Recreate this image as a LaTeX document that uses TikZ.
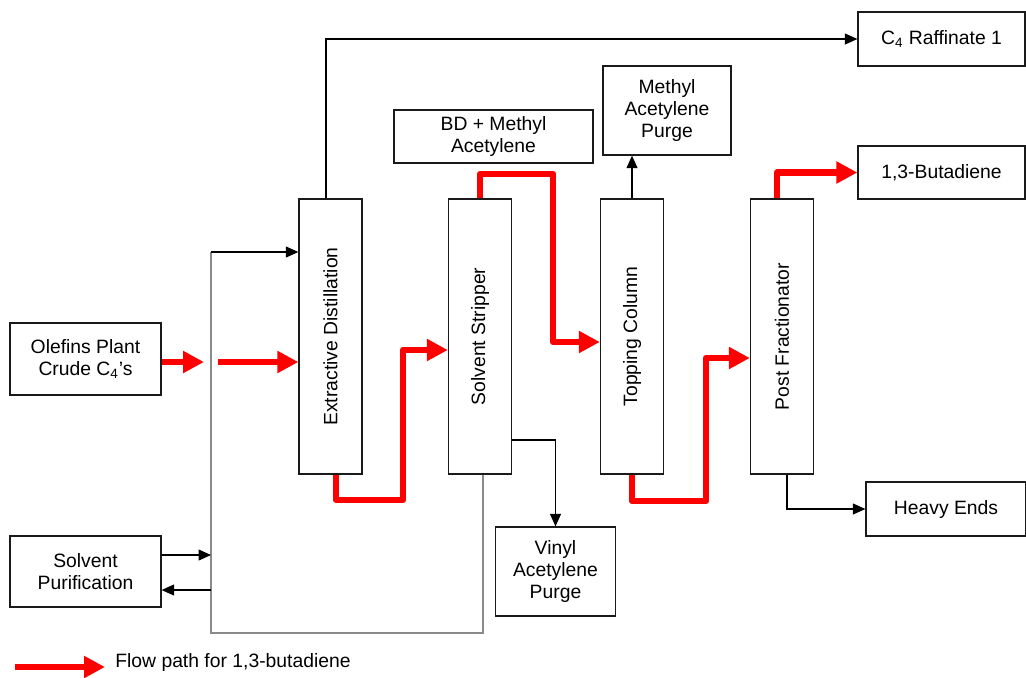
\documentclass[tikz,border=0pt]{standalone}
\usepackage{fontspec}
\setmainfont{Liberation Sans}
\usepackage{tikz}
\usetikzlibrary{positioning,arrows.meta}
\definecolor{flowred}{HTML}{FF0000}
\definecolor{loopgray}{HTML}{8A8A8A}
\definecolor{ink}{HTML}{1A1A1A}

\begin{document}
\begin{tikzpicture}[
  x=0.02cm, y=-0.02cm,
  font=\fontsize{11}{12.5}\selectfont,
  box/.style={draw=ink, line width=0.75pt, fill=white, align=center, inner sep=2pt},
  column/.style={box, minimum width=1.26cm, minimum height=5.5cm},
  arr/.style={-{Triangle[length=2.5mm, width=2.2mm]}, black, line width=0.6pt},
  flow/.style={-{Triangle[length=4.2mm, width=4.2mm]}, flowred, line width=3.6pt, line join=round},
  solv/.style={loopgray, line width=0.8pt},
]
\useasboundingbox (0,0) rectangle (1026,677);

% feed and solvent side
\node[box, minimum width=3.02cm, minimum height=1.44cm] (olefins) at (85.5,359) {Olefins Plant\\Crude C\textsubscript{4}’s};
\node[box, minimum width=3.02cm, minimum height=1.42cm] (solvpur) at (85.5,571.5) {Solvent\\Purification};

% columns
\node[column, label={[rotate=90]center:Extractive Distillation}] (extdist) at (330.5,336.5) {};
\node[column, label={[rotate=90]center:Solvent Stripper}] (sstrip) at (480,336.5) {};
\node[column, label={[rotate=90]center:Topping Column}] (topcol) at (632,336.5) {};
\node[column, label={[rotate=90]center:Post Fractionator}] (postfrac) at (782,336.5) {};

% products and purges
\node[box, minimum width=3.98cm, minimum height=1.06cm] (bdma) at (493.5,136.5) {BD + Methyl\\Acetylene};
\node[box, minimum width=2.56cm, minimum height=1.78cm] (mapurge) at (667,110.5) {Methyl\\Acetylene\\Purge};
\node[box, minimum width=3.34cm, minimum height=1.08cm] (raff) at (941.5,39) {C\textsubscript{4} Raffinate 1};
\node[box, minimum width=3.34cm, minimum height=1.06cm] (butad) at (941.5,172.5) {1,3-Butadiene};
\node[box, minimum width=3.2cm, minimum height=1.08cm] (heavy) at (946,509) {Heavy Ends};
\node[box, minimum width=2.4cm, minimum height=1.78cm] (vapurge) at (555.5,571.5) {Vinyl\\Acetylene\\Purge};

% solvent loop
\coordinate (looptop) at (211,252);
\coordinate (loopbot) at (211,633);
\coordinate (spin) at ([yshift=3.3mm]solvpur.east);
\coordinate (spout) at ([yshift=-3.7mm]solvpur.east);
\draw[solv] ([xshift=0.6mm]sstrip.south) |- (loopbot) -- (looptop);
\draw[arr] (looptop) -- (looptop -| extdist.west);
\draw[arr] (spin) -- (spin -| loopbot);
\draw[arr] (spout -| loopbot) -- (spout);

% side streams
\draw[arr] ([xshift=-0.9mm]extdist.north) |- (raff.west);
\draw[arr] (topcol.north) -- (topcol.north |- mapurge.south);
\draw[arr] ([yshift=-2.07cm]sstrip.east) -| (vapurge.north);
\draw[arr] ([xshift=1mm]postfrac.south) |- (heavy.west);

% butadiene path
\coordinate (gapl) at (204,362);
\coordinate (gapr) at (218,362);
\coordinate (bend1) at (403,500);
\coordinate (bend2) at (553,174);
\coordinate (bend3) at (706,501);
\draw[flow] (olefins.east |- gapl) -- (gapl);
\draw[flow] (gapr) -- (gapr -| extdist.west);
\draw[flow] ([xshift=1.1mm]extdist.south) |- (bend1) |- ([yshift=-2.7mm]sstrip.west);
\draw[flow] (sstrip.north) |- (bend2) |- ([yshift=-1.1mm]topcol.west);
\draw[flow] (topcol.south) |- (bend3) |- ([yshift=-4.3mm]postfrac.west);
\draw[flow] ([xshift=-1mm]postfrac.north) |- (butad.west);

% legend
\node[anchor=west, inner sep=0] (legtxt) at (115,662) {Flow path for 1,3-butadiene};
\coordinate (legtail) at (15,667);
\draw[flow, shorten >=2mm] (legtail) -- (legtail -| legtxt.west);

\end{tikzpicture}
\end{document}
